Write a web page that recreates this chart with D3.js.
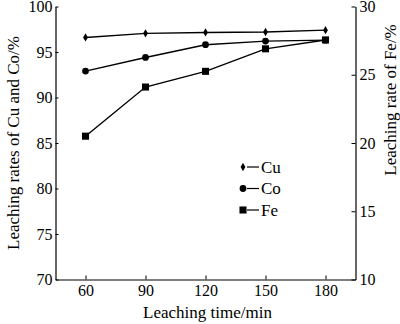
<!DOCTYPE html>
<html><head><meta charset="utf-8">
<script src="https://cdn.jsdelivr.net/npm/d3@7"></script>
<style>body{margin:0;background:#fff}text{font-family:"Liberation Serif","Times New Roman",serif;fill:#000}</style>
</head><body>
<svg id="c" width="400" height="324"></svg>
<script>
const times = [60, 90, 120, 150, 180];
const cu = [96.6, 97.05, 97.15, 97.2, 97.4];
const co = [92.9, 94.4, 95.8, 96.2, 96.3];
const fe = [20.5, 24.1, 25.25, 26.9, 27.55];
const leftTicks = [70, 75, 80, 85, 90, 95, 100];
const rightTicks = [10, 15, 20, 25, 30];
const xTicks = [60, 90, 120, 150, 180];

const svg = d3.select("#c");
const L = 55.5, R = 355.5, T = 6.5, B = 279.5;
const x = d3.scaleLinear().domain([45, 195]).range([L, R]);
const yL = d3.scaleLinear().domain([70, 100]).range([B, T]);
const yR = d3.scaleLinear().domain([10, 30]).range([B, T]);

const fs = 16;
const xa = svg.append("g").attr("transform", `translate(0,${B})`)
  .call(d3.axisBottom(x).tickValues(xTicks).tickSizeInner(-4).tickSizeOuter(0).tickPadding(5));
const la = svg.append("g").attr("transform", `translate(${L},0)`)
  .call(d3.axisLeft(yL).tickValues(leftTicks).tickSizeInner(-3).tickSizeOuter(0).tickPadding(3));
const ra = svg.append("g").attr("transform", `translate(${R},0)`)
  .call(d3.axisRight(yR).tickValues(rightTicks).tickSizeInner(-4).tickSizeOuter(0).tickPadding(4));
[xa, la, ra].forEach(g => {
  g.attr("font-family", "Liberation Serif").attr("font-size", fs);
  g.select(".domain").attr("stroke", "#000").attr("stroke-width", 1.2);
  g.selectAll(".tick line").attr("stroke", "#000").attr("stroke-width", 1);
  g.selectAll("text").attr("fill", "#000");
});

const lineL = d3.line().x((d, i) => x(times[i])).y(d => yL(d));
const lineR = d3.line().x((d, i) => x(times[i])).y(d => yR(d));
const g = svg.append("g");
g.append("path").attr("d", lineL(cu)).attr("fill", "none").attr("stroke", "#000").attr("stroke-width", 1.4);
g.append("path").attr("d", lineL(co)).attr("fill", "none").attr("stroke", "#000").attr("stroke-width", 1.4);
g.append("path").attr("d", lineR(fe)).attr("fill", "none").attr("stroke", "#000").attr("stroke-width", 1.4);

const diamond = d3.symbol().type(d3.symbolDiamond).size(20);
const circle = d3.symbol().type(d3.symbolCircle).size(36);
const square = d3.symbol().type(d3.symbolSquare).size(50);
g.selectAll(".cu").data(cu).join("path").attr("d", diamond)
  .attr("transform", (d, i) => `translate(${x(times[i])},${yL(d)})`);
g.selectAll(".co").data(co).join("path").attr("d", circle)
  .attr("transform", (d, i) => `translate(${x(times[i])},${yL(d)})`);
g.selectAll(".fe").data(fe).join("path").attr("d", square)
  .attr("transform", (d, i) => `translate(${x(times[i])},${yR(d)})`);

const leg = [["Cu", diamond], ["Co", circle], ["Fe", square]];
leg.forEach((l, i) => {
  const yy = 167 + i * 21.5;
  svg.append("path").attr("d", l[1]).attr("transform", `translate(243,${yy})`);
  svg.append("line").attr("x1", 247).attr("x2", 259).attr("y1", yy).attr("y2", yy).attr("stroke", "#000").attr("stroke-width", 1.2);
  svg.append("text").attr("x", 261).attr("y", yy + 5.5).style("font-size", "17px").text(l[0]);
});

svg.append("text").attr("x", (L + R) / 2 + 2).attr("y", 318).attr("text-anchor", "middle").style("font-size", "17px").text("Leaching time/min");
svg.append("text").attr("transform", `translate(19,${(T + B) / 2}) rotate(-90)`).attr("text-anchor", "middle").style("font-size", "17px").text("Leaching rates of Cu and Co/%");
svg.append("text").attr("transform", `translate(396,100) rotate(-90)`).attr("text-anchor", "middle").style("font-size", "17px").text("Leaching rate of Fe/%");
</script>
</body></html>
